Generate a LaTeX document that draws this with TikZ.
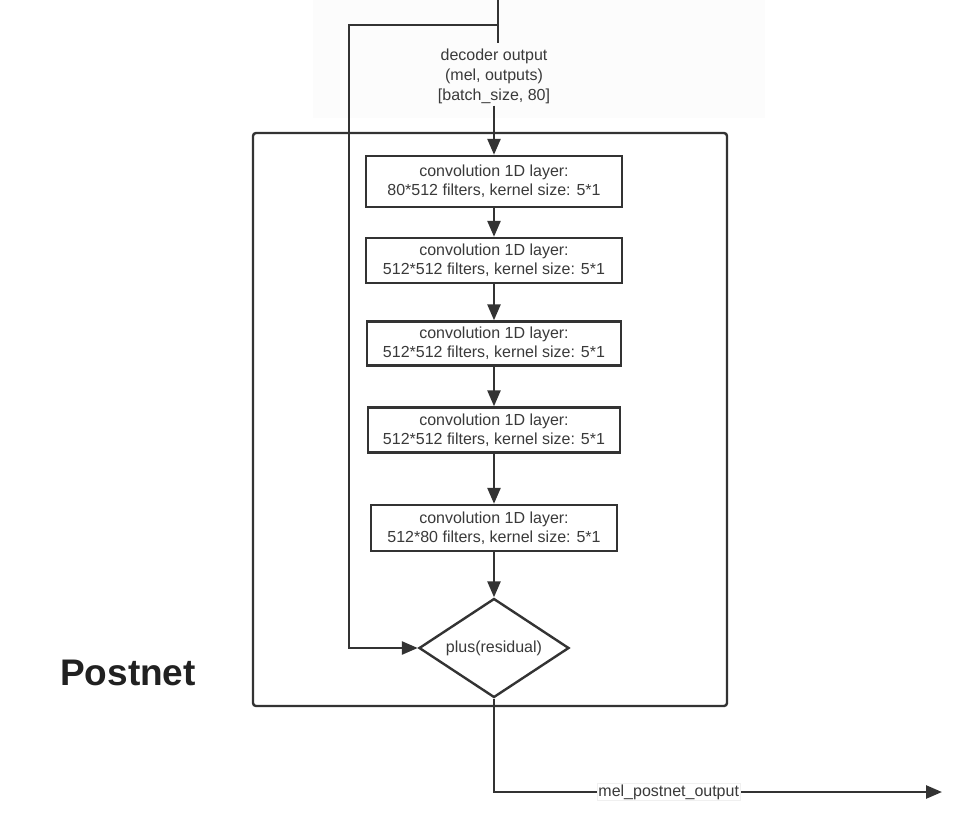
\documentclass[tikz,border=0pt]{standalone}
\usepackage{fontspec}
\setmainfont{Liberation Sans}
\usetikzlibrary{shapes.geometric,arrows.meta}
\definecolor{ink}{HTML}{333333}
\definecolor{txt}{HTML}{3A3A3A}
\definecolor{faint}{HTML}{FCFCFC}
\begin{document}
\begin{tikzpicture}[x=1pt,y=-1pt,
  line/.style={draw=ink,line width=2.6pt},
  arr/.style={line,-{Triangle[length=16pt,width=13pt]}},
  convbox/.style={draw=ink,line width=2.4pt,fill=white,text=txt,align=center,inner sep=0pt,
    font=\fontsize{16}{19}\selectfont},
  plainlbl/.style={text=txt,align=center,inner sep=2pt,font=\fontsize{16}{20}\selectfont},
  frame/.style={draw=ink,line width=2.4pt,rounded corners=3pt,inner sep=0pt},
  decision/.style={diamond,draw=ink,line width=2.4pt,fill=white,text=txt,inner sep=0pt,
    aspect=1.515,minimum width=150pt,minimum height=99pt,font=\fontsize{16}{19}\selectfont},
  outlbl/.style={fill=white,draw=gray!12,line width=0.6pt,text=txt,inner sep=1pt,
    font=\fontsize{16}{19}\selectfont},
  titlelbl/.style={text=black!87,font=\fontsize{37}{40}\selectfont\bfseries,inner sep=0pt}
]
\useasboundingbox (0,0) rectangle (956,815);
% faint backdrop behind the input label
\fill[faint] (313,0) rectangle (765,118);

% outer Postnet frame
\node[frame,minimum width=474pt,minimum height=573pt] (frame) at (490,419.5) {};

% input label
\node[plainlbl] (dec) at (494,76) {decoder output\\(mel, outputs)\\{[}batch\_size, 80{]}};

% input line and branch
\coordinate (top) at (498,0);
\coordinate (topend) at (498,43);
\coordinate (branch) at (498,25);
\coordinate (lcorner) at (349,25);
\draw[line] (top) -- (topend);

% convolution layers
\node[convbox,minimum width=256pt,minimum height=51pt] (c1) at (494,181.5)
  {convolution 1D layer:\\80*512 filters, kernel size: 5*1};
\node[convbox,minimum width=256pt,minimum height=45pt] (c2) at (494,260.5)
  {convolution 1D layer:\\512*512 filters, kernel size: 5*1};
\node[convbox,minimum width=254pt,minimum height=44pt] (c3) at (494,343.5)
  {convolution 1D layer:\\512*512 filters, kernel size: 5*1};
\node[convbox,minimum width=252pt,minimum height=45pt] (c4) at (494,430)
  {convolution 1D layer:\\512*512 filters, kernel size: 5*1};
\node[convbox,minimum width=246pt,minimum height=46pt] (c5) at (494,528)
  {convolution 1D layer:\\512*80 filters, kernel size: 5*1};

% residual sum
\node[decision] (plus) at (494,648) {plus(residual)};

% postnet title
\node[titlelbl] (title) at (128,673) {Postnet};

% connectors
\draw[arr] (dec.south) -- (c1.north);
\draw[arr] (c1.south) -- (c2.north);
\draw[arr] (c2.south) -- (c3.north);
\draw[arr] (c3.south) -- (c4.north);
\draw[arr] (c4.south) -- (c5.north);
\draw[arr] (c5.south) -- (plus.north);
\draw[arr] (branch) -- (lcorner) -- (lcorner |- plus.west) -- (plus.west);

\coordinate (ocorner) at (494,792);
\coordinate (oend) at (942,792);
\draw[arr] (plus.south) -- (ocorner) -- node[outlbl,pos=0.39] (olbl) {mel\_postnet\_output} (oend);
\end{tikzpicture}
\end{document}
